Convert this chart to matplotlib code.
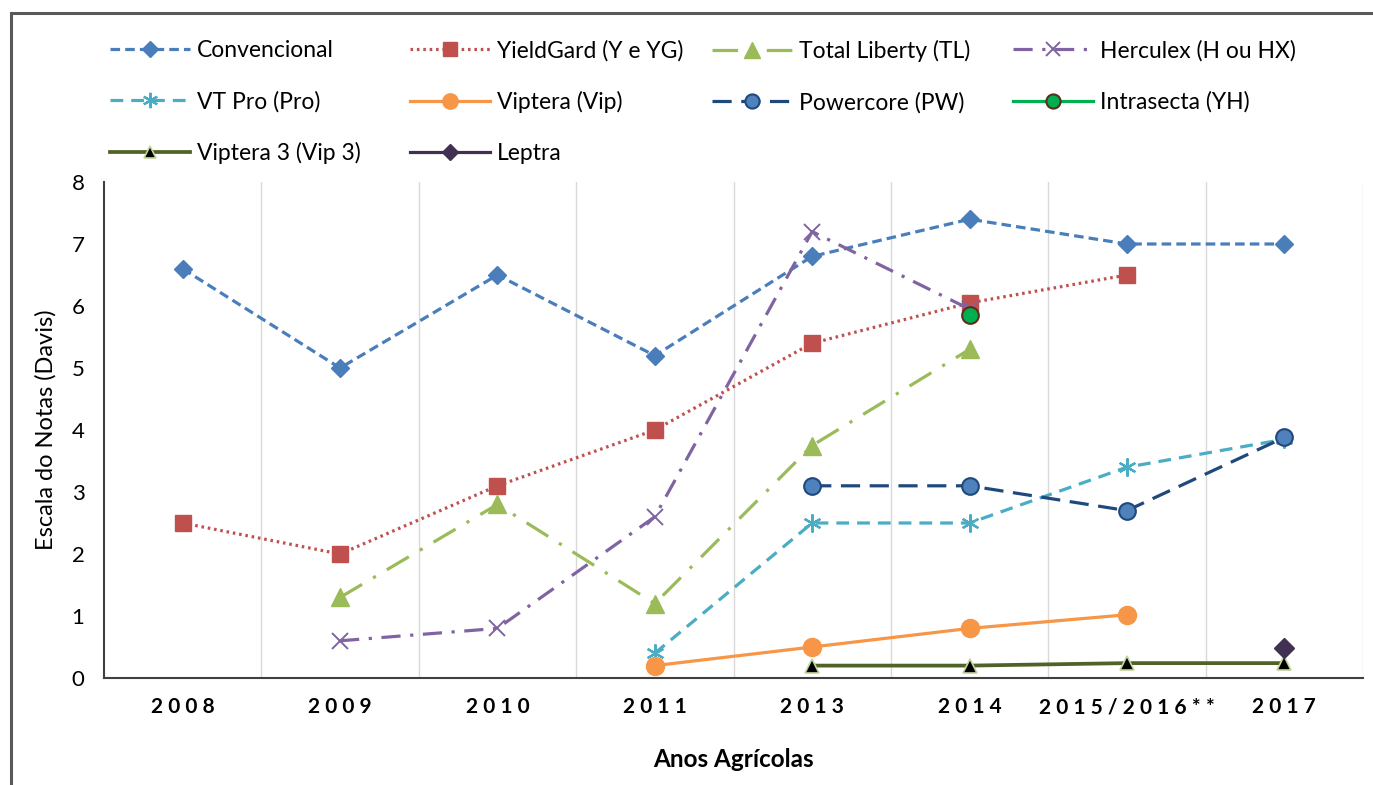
import matplotlib
matplotlib.use("Agg")
import matplotlib.pyplot as plt
from matplotlib.patches import Rectangle
import numpy as np

plt.rcParams['font.family'] = ['Lato', 'DejaVu Sans']

years = ["2008", "2009", "2010", "2011", "2013", "2014", "2015/2016**", "2017"]
nan = np.nan
convencional = [6.6, 5.0, 6.5, 5.2, 6.8, 7.4, 7.0, 7.0]
yieldgard    = [2.5, 2.0, 3.1, 4.0, 5.4, 6.05, 6.5, nan]
total_lib    = [nan, 1.3, 2.8, 1.2, 3.75, 5.3, nan, nan]
herculex     = [nan, 0.6, 0.8, 2.6, 7.2, 5.95, nan, nan]
vtpro        = [nan, nan, nan, 0.4, 2.5, 2.5, 3.4, 3.85]
viptera      = [nan, nan, nan, 0.2, 0.5, 0.8, 1.02, nan]
powercore    = [nan, nan, nan, nan, 3.1, 3.1, 2.7, 3.88]
intrasecta   = [nan, nan, nan, nan, nan, 5.85, nan, nan]
viptera3     = [nan, nan, nan, nan, 0.2, 0.2, 0.24, 0.24]
leptra       = [nan, nan, nan, nan, nan, nan, nan, 0.48]

fig = plt.figure(figsize=(13.73, 7.85), dpi=100)
ax = fig.add_axes([104/1373, 1-678/785, (1363-104)/1373, (678-182)/785])
x = np.arange(len(years))

def plot(vals, **kw):
    v = np.array(vals, dtype=float)
    m = ~np.isnan(v)
    return ax.plot(x[m], v[m], **kw)[0]

lw = 2.3
h_conv = plot(convencional, color='#4A7EBB', ls=(0, (3, 1.6)), lw=lw, marker='D', ms=9,
              mfc='#4A7EBB', mec='#4A7EBB', label='Convencional')
h_yg = plot(yieldgard, color='#C0504D', ls=(0, (0.8, 1.2)), lw=lw, marker='s', ms=12,
            mfc='#C0504D', mec='#C0504D', label='YieldGard (Y e YG)')
h_tl = plot(total_lib, color='#9BBB59', ls=(0, (8, 4, 1, 4)), lw=lw, marker='^', ms=13,
            mfc='#9BBB59', mec='#9BBB59', label='Total Liberty (TL)')
h_hx = plot(herculex, color='#8064A2', ls=(0, (6, 3, 1, 3)), lw=lw, marker='x', ms=12, mew=1.4,
            mfc='#8064A2', mec='#8064A2', label='Herculex (H ou HX)')
h_vt = plot(vtpro, color='#4BACC6', ls=(0, (4, 2.5)), lw=lw, marker=(6, 2, 0), ms=13, mew=1.6,
            mfc='#4BACC6', mec='#4BACC6', label='VT Pro (Pro)')
h_vip = plot(viptera, color='#F79646', ls='-', lw=lw, marker='o', ms=13,
             mfc='#F79646', mec='#F79646', label='Viptera (Vip)')
h_pw = plot(powercore, color='#1F497D', ls=(0, (6, 3)), lw=lw, marker='o', ms=12, mew=1.5,
            mfc='#4F81BD', mec='#1F497D', label='Powercore (PW)')
h_yh = plot(intrasecta, color='#00B050', ls='-', lw=lw, marker='o', ms=12, mew=1.5,
            mfc='#00B050', mec='#5A2E1E', label='Intrasecta (YH)')
h_v3 = plot(viptera3, color='#4F6228', ls='-', lw=lw+0.4, marker='^', ms=10, mew=1.2,
            mfc='black', mec='#C3D69B', label='Viptera 3 (Vip 3)')
h_lp = plot(leptra, color='#403152', ls='-', lw=lw, marker='D', ms=10,
            mfc='#403152', mec='#403152', label='Leptra')

ax.set_xlim(-0.5, len(years) - 0.5)
ax.set_ylim(0, 8)
ax.set_yticks(range(0, 9))
ax.set_xticks(x)
ax.set_xticklabels([' '.join(list(y)) for y in years], fontweight='bold', fontsize=15)
ax.tick_params(axis='both', length=0)
ax.tick_params(axis='y', labelsize=16, pad=14)
ax.tick_params(axis='x', pad=14)
for b in np.arange(0.5, len(years), 1.0):
    ax.axvline(b, color='#D9D9D9', lw=1, zorder=0)
for s in ['top', 'right']:
    ax.spines[s].set_visible(False)
ax.spines['left'].set_color('#404040')
ax.spines['bottom'].set_color('#404040')
ax.spines['left'].set_linewidth(1.5)
ax.spines['bottom'].set_linewidth(1.5)

ax.set_ylabel('Escala do Notas (Davis)', fontsize=17, labelpad=11)
ax.set_xlabel('Anos Agrícolas', fontsize=17.5, fontweight='bold', labelpad=22)

columns = [[h_conv, h_vt, h_v3], [h_yg, h_vip, h_lp], [h_tl, h_pw], [h_hx, h_yh]]
col_x = [110, 410, 712, 1013]
for hs, cx in zip(columns, col_x):
    leg = fig.legend(handles=hs, labels=[h.get_label() for h in hs],
                     loc='upper left', bbox_to_anchor=(cx/1373, 1-40/785),
                     frameon=False, fontsize=16.5, handlelength=3.5, handletextpad=0.3,
                     labelspacing=1.3, borderpad=0, borderaxespad=0, markerscale=0.85)

fig.patches.append(Rectangle((11/1373, -0.1), 1.2, 1.1 - 13/785, transform=fig.transFigure,
                             fill=False, ec='#595959', lw=2.2))

fig.savefig('out.png', dpi=100)
